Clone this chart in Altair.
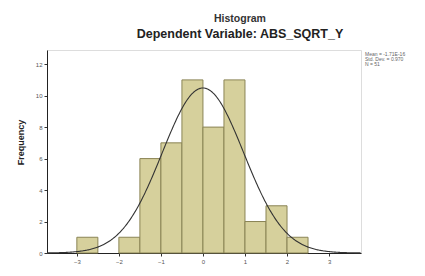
import altair as alt
import pandas as pd

bin_start = [-3.0, -2.5, -2.0, -1.5, -1.0, -0.5, 0.0, 0.5, 1.0, 1.5, 2.0]
counts = [1, 0, 1, 6, 7, 11, 8, 11, 2, 3, 1]
bin_width = 0.5
mean_val = 0.0
sd_val = 0.970
n_val = 51
x_ticks = [-3, -2, -1, 0, 1, 2, 3]
y_ticks = [0, 2, 4, 6, 8, 10, 12]
stats_lines = ["Mean = -1.71E-16", "Std. Dev. = 0.970", "N = 51"]

bars_df = pd.DataFrame({
    "x0": bin_start,
    "x1": [b + bin_width for b in bin_start],
    "count": counts,
})
bars_df = bars_df[bars_df["count"] > 0]

FONT = "Liberation Sans"
xscale = alt.Scale(domain=[-3.71, 3.76], nice=False, zero=False)
yscale = alt.Scale(domain=[0, 12.9], nice=False)

xaxis = alt.Axis(values=x_ticks, title="Regression Standardized Residual",
                 titleFont=FONT, titleFontSize=10, titleFontWeight="bold",
                 titleColor="#222", titlePadding=4, labelOverlap=False,
                 labelFont=FONT, labelFontSize=6, labelColor="#555",
                 tickColor="#333", tickSize=3, domainColor="#222", grid=False,
                 labelPadding=2)
yaxis = alt.Axis(values=y_ticks, title="Frequency", labelOverlap=False,
                 titleFont=FONT, titleFontSize=9, titleFontWeight="bold",
                 titleColor="#222", titlePadding=10, titleY=92,
                 labelFont=FONT, labelFontSize=6, labelColor="#555",
                 tickColor="#333", tickSize=3, domainColor="#222", grid=False,
                 labelPadding=2)

bars = alt.Chart(bars_df).mark_rect(
    fill="#d6d09c", stroke="#8a8455", strokeWidth=1
).encode(
    x=alt.X("x0:Q", scale=xscale, axis=xaxis),
    x2="x1:Q",
    y=alt.Y("count:Q", scale=yscale, axis=yaxis),
    y2=alt.datum(0),
)

curve = alt.Chart(alt.sequence(-3.71, 3.76, 0.02, as_="x")).transform_calculate(
    y=f"{n_val}*{bin_width}/({sd_val}*sqrt(2*PI))*exp(-0.5*pow((datum.x-{mean_val})/{sd_val},2))"
).mark_line(color="#333333", strokeWidth=1.1).encode(
    x=alt.X("x:Q", scale=xscale, axis=xaxis),
    y=alt.Y("y:Q", scale=yscale, axis=yaxis),
)

def label(txt, x, y, size, weight="bold", color="#222", align="center"):
    return alt.Chart(pd.DataFrame({"t": [txt]})).mark_text(
        font=FONT, fontSize=size, fontWeight=weight, color=color,
        baseline="middle", align=align
    ).encode(text="t:N", x=alt.value(x), y=alt.value(y))

t1 = label("Histogram", 193, -31, 10.5, color="#333")
t2 = label("Dependent Variable: ABS_SQRT_Y", 193, -16, 12.5)
s1 = label(stats_lines[0], 318, 4, 5, weight="normal", color="#666", align="left")
s2 = label(stats_lines[1], 318, 9, 5, weight="normal", color="#666", align="left")
s3 = label(stats_lines[2], 318, 14, 5, weight="normal", color="#666", align="left")

chart = alt.layer(bars, curve, t1, t2, s1, s2, s3).properties(
    width=314, height=203,
    padding={"left": 39, "top": 42, "right": 56, "bottom": 15},
    autosize=alt.AutoSizeParams(type="none"),
).configure_view(
    fill="#f1f1f1", stroke="#9a9a9a", strokeWidth=1
).configure(background="white")

chart.save("out.html", embed_options={"renderer": "svg", "actions": False})
